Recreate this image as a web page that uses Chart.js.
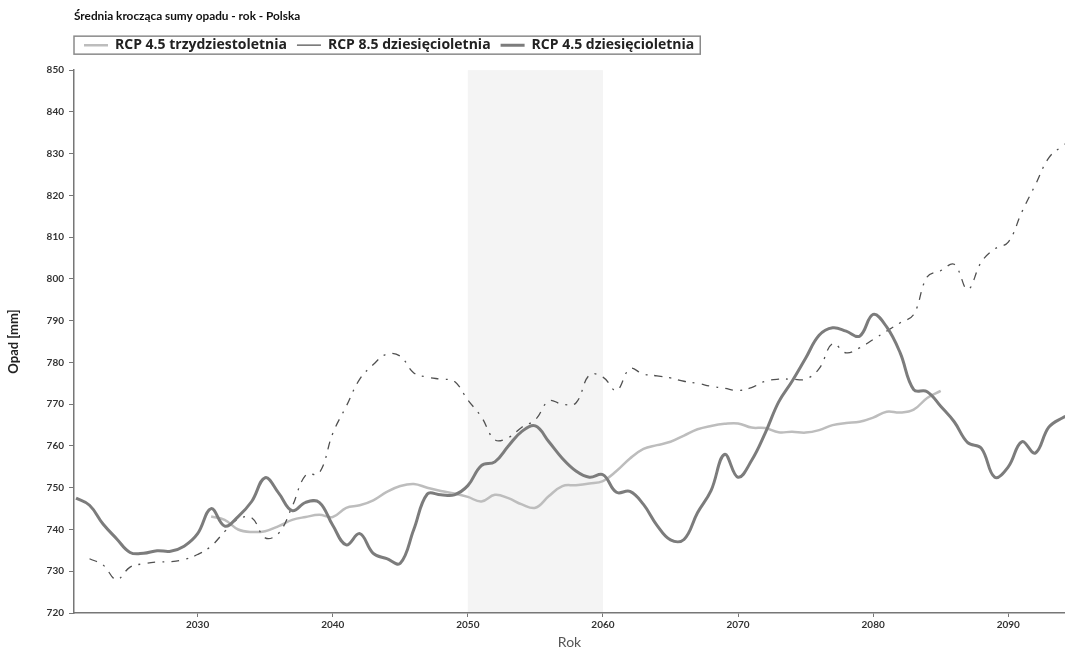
<!DOCTYPE html>
<html>
<head>
<meta charset="utf-8">
<script src="https://cdn.jsdelivr.net/npm/chart.js@4"></script>
<style>
  html, body { margin: 0; padding: 0; background: #fff; }
</style>
</head>
<body>
<canvas id="chart" width="1065" height="652"></canvas>
<script>
// lata i wartosci (mm)
const years45_30 = [2031, 2032, 2033, 2034, 2035, 2036, 2037, 2038, 2039, 2040, 2041, 2042, 2043, 2044, 2045, 2046, 2047, 2048, 2049, 2050,
    2051, 2052, 2053, 2054, 2055, 2056, 2057, 2058, 2059, 2060, 2061, 2062, 2063, 2064, 2065, 2066, 2067, 2068, 2069, 2070,
    2071, 2072, 2073, 2074, 2075, 2076, 2077, 2078, 2079, 2080, 2081, 2082, 2083, 2084, 2085];
const rcp45_30 = [743.1, 742.3, 740.0, 739.4, 739.6, 740.8, 742.3, 743.0, 743.5, 743.0, 745.2, 745.8, 747.0, 749.0, 750.4, 750.9, 750.0, 749.2, 748.6, 747.8,
    746.7, 748.3, 747.5, 746.0, 745.2, 748.0, 750.4, 750.6, 751.0, 751.6, 754.0, 757.0, 759.3, 760.2, 761.0, 762.5, 764.0, 764.8, 765.3, 765.4,
    764.4, 764.3, 763.3, 763.4, 763.2, 763.8, 765.0, 765.5, 765.8, 766.8, 768.2, 768.0, 768.7, 771.5, 773.2];

const years85_10 = [2022, 2023, 2024, 2025, 2026, 2027, 2028, 2029, 2030, 2031, 2032, 2033, 2034, 2035, 2036, 2037, 2038, 2039, 2040,
    2041, 2042, 2043, 2044, 2045, 2046, 2047, 2048, 2049, 2050, 2051, 2052, 2053, 2054, 2055, 2056, 2057, 2058, 2059, 2060,
    2061, 2062, 2063, 2064, 2065, 2066, 2067, 2068, 2069, 2070, 2071, 2072, 2073, 2074, 2075, 2076, 2077, 2078, 2079, 2080,
    2081, 2082, 2083, 2084, 2085, 2086, 2087, 2088, 2089, 2090, 2091, 2092, 2093, 2094, 2095];
const rcp85_10 = [733.0, 731.5, 728.0, 731.0, 731.8, 732.2, 732.3, 732.8, 734.0, 736.0, 739.5, 742.5, 742.8, 738.0, 739.1, 745.5, 753.0, 753.5, 763.0,
    769.5, 776.0, 779.5, 782.0, 781.5, 777.5, 776.5, 776.0, 775.5, 771.0, 767.0, 761.5, 762.0, 764.5, 766.3, 770.8, 770.0, 770.3, 777.0, 776.5,
    773.3, 778.5, 777.2, 776.8, 776.3, 775.5, 775.0, 774.3, 773.8, 773.3, 774.0, 775.5, 776.0, 776.0, 776.0, 778.5, 784.5, 782.3, 783.5, 785.5,
    787.5, 789.5, 791.5, 800.5, 802.0, 803.5, 797.5, 804.0, 807.2, 808.8, 816.0, 822.5, 829.0, 831.8, 834.0];

const years45_10 = [2021, 2022, 2023, 2024, 2025, 2026, 2027, 2028, 2029, 2030, 2031, 2032, 2033, 2034, 2035, 2036, 2037, 2038, 2039, 2040,
    2041, 2042, 2043, 2044, 2045, 2046, 2047, 2048, 2049, 2050, 2051, 2052, 2053, 2054, 2055, 2056, 2057, 2058, 2059, 2060,
    2061, 2062, 2063, 2064, 2065, 2066, 2067, 2068, 2069, 2070, 2071, 2072, 2073, 2074, 2075, 2076, 2077, 2078, 2079, 2080,
    2081, 2082, 2083, 2084, 2085, 2086, 2087, 2088, 2089, 2090, 2091, 2092, 2093, 2094, 2095];
const rcp45_10 = [747.5, 745.8, 741.3, 737.8, 734.5, 734.3, 734.9, 734.8, 736.0, 739.0, 745.0, 740.8, 743.1, 746.7, 752.4, 748.7, 744.5, 746.5, 746.5, 741.0,
    736.3, 739.0, 734.3, 733.0, 731.9, 740.0, 748.5, 748.3, 748.3, 750.5, 755.3, 756.2, 760.0, 763.5, 764.8, 761.0, 757.0, 754.0, 752.5, 753.1,
    748.9, 749.1, 746.0, 741.0, 737.5, 737.6, 744.0, 749.3, 758.0, 752.5, 756.5, 763.0, 770.5, 775.5, 781.0, 786.5, 788.3, 787.5, 786.3, 791.5,
    788.5, 782.3, 773.5, 773.0, 769.5, 765.8, 760.8, 759.5, 752.5, 755.0, 761.0, 758.3, 764.5, 766.7, 768.0];

const xTicks = [2030, 2040, 2050, 2060, 2070, 2080, 2090];
const shadeYears = [2050, 2060];

function toPoints(xs, ys) {
    return xs.map((x, i) => ({ x: x, y: ys[i] }));
}

const labelFont = { family: 'Lato', size: 10, weight: 'bold' };

const shadePlugin = {
    id: 'shade',
    beforeDraw(chart) {
        const { ctx, chartArea, scales } = chart;
        const x0 = scales.x.getPixelForValue(shadeYears[0]);
        const x1 = scales.x.getPixelForValue(shadeYears[1]);
        ctx.save();
        ctx.fillStyle = '#f4f4f4';
        ctx.fillRect(x0, chartArea.top, x1 - x0, chartArea.bottom - chartArea.top);
        ctx.restore();
    }
};

const legendBoxPlugin = {
    id: 'legendBox',
    afterDraw(chart) {
        const boxes = chart.legend.legendHitBoxes;
        if (!boxes || !boxes.length) return;
        const first = boxes[0];
        const last = boxes[boxes.length - 1];
        const left = first.left - 10;
        const right = last.left + last.width + 6;
        const cy = first.top + first.height / 2;
        const ctx = chart.ctx;
        ctx.save();
        ctx.strokeStyle = '#8a8a8a';
        ctx.lineWidth = 1.5;
        ctx.strokeRect(left, cy - 9, right - left, 18);
        ctx.restore();
    }
};

new Chart(document.getElementById('chart'), {
    type: 'line',
    data: {
        datasets: [
            {
                label: 'RCP 4.5 trzydziestoletnia',
                data: toPoints(years45_30, rcp45_30),
                borderColor: '#bdbdbd',
                borderWidth: 2.5,
                order: 2
            },
            {
                label: 'RCP 8.5 dziesięcioletnia',
                data: toPoints(years85_10, rcp85_10),
                borderColor: '#505050',
                borderWidth: 1.3,
                borderDash: [8, 7, 2, 7],
                order: 1
            },
            {
                label: 'RCP 4.5 dziesięcioletnia',
                data: toPoints(years45_10, rcp45_10),
                borderColor: '#7c7c7c',
                borderWidth: 3,
                order: 0
            }
        ]
    },
    options: {
        responsive: false,
        animation: false,
        parsing: false,
        elements: {
            point: { radius: 0 },
            line: { tension: 0.4, fill: false }
        },
        layout: { padding: 0 },
        plugins: {
            tooltip: { enabled: false },
            title: {
                display: true,
                text: 'Średnia krocząca sumy opadu - rok - Polska',
                align: 'start',
                fullSize: false,
                color: '#111',
                font: { family: 'Lato', size: 11.8, weight: 'bold' },
                padding: { top: 9, bottom: 5 }
            },
            // pusty odstep miedzy legenda a wykresem
            subtitle: {
                display: true,
                text: '',
                fullSize: false,
                weight: 500,
                font: { size: 8, lineHeight: 1 },
                padding: 0
            },
            legend: {
                position: 'top',
                align: 'start',
                fullSize: false,
                labels: {
                    usePointStyle: true,
                    pointStyle: 'line',
                    pointStyleWidth: 24,
                    padding: 10,
                    color: '#222',
                    font: { family: 'Open Sans', size: 14, weight: 'bold' },
                    sort: (a, b) => a.datasetIndex - b.datasetIndex
                }
            }
        },
        scales: {
            x: {
                type: 'linear',
                min: 2020.85,
                max: 2094.2,
                afterBuildTicks: (scale) => {
                    scale.ticks = xTicks.map(v => ({ value: v }));
                },
                afterFit: (scale) => { scale.height = 39; },
                ticks: {
                    color: '#333',
                    font: labelFont,
                    padding: 2,
                    maxRotation: 0,
                    callback: (v) => String(v)
                },
                grid: { drawOnChartArea: false, tickLength: 4, color: '#777' },
                border: { color: '#777', width: 1.5 },
                title: {
                    display: true,
                    text: 'Rok',
                    color: '#555',
                    font: { family: 'Lato', size: 14 },
                    padding: { top: 2, bottom: 1 }
                }
            },
            y: {
                min: 720,
                max: 850,
                afterFit: (scale) => { scale.width = 74; },
                ticks: {
                    stepSize: 10,
                    color: '#333',
                    font: labelFont,
                    padding: 5
                },
                grid: { drawOnChartArea: false, tickLength: 5, color: '#777' },
                border: { color: '#777', width: 1.5 },
                title: {
                    display: true,
                    text: 'Opad [mm]',
                    color: '#222',
                    font: { family: 'Lato', size: 13, weight: 'bold' },
                    padding: { top: 6, bottom: 0 }
                }
            }
        }
    },
    plugins: [shadePlugin, legendBoxPlugin]
});
</script>
</body>
</html>
